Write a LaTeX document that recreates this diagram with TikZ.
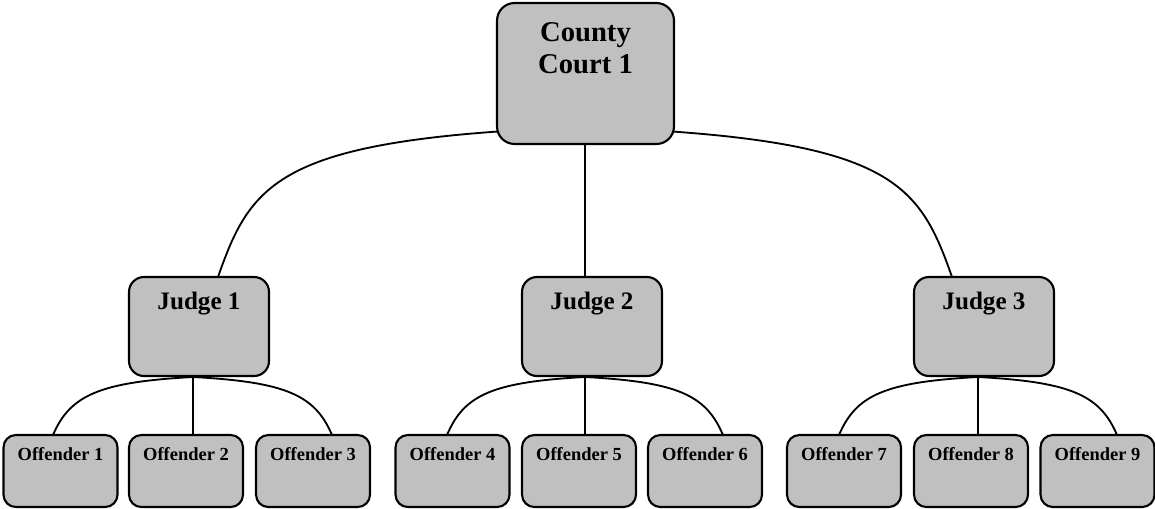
\documentclass[tikz,border=0pt]{standalone}
\usepackage{fontspec}
\setmainfont{Liberation Serif}
\usetikzlibrary{calc}
\definecolor{boxgray}{HTML}{C0C0C0}
\pgfdeclarelayer{bg}
\pgfsetlayers{bg,main}
\begin{document}
\begin{tikzpicture}[x=0.02cm, y=-0.02cm,
  box/.style={draw=black, line width=1.2pt, fill=boxgray, rectangle, inner sep=0pt, outer sep=0pt},
  countybox/.style={box, minimum width=35.4mm, minimum height=28.2mm, rounded corners=10pt},
  judgebox/.style={box, minimum width=28mm, minimum height=19.8mm, rounded corners=8.5pt},
  offbox/.style={box, minimum width=22.8mm, minimum height=14.4mm, rounded corners=7pt},
  lbl/.style={anchor=north, inner sep=0pt, align=center},
  countytxt/.style={lbl, font=\bfseries\fontsize{16.3}{18.1}\selectfont},
  judgetxt/.style={lbl, font=\bfseries\fontsize{14.3}{16}\selectfont},
  offtxt/.style={lbl, font=\bfseries\fontsize{10.5}{12}\selectfont},
  link/.style={line width=1.05pt, draw=black},
]
\useasboundingbox (0,0) rectangle (1155,508);

% boxes
\node[countybox] (cc) at (585.5,73.5) {};
\node[judgebox] (j1) at (199,326.5) {};
\node[judgebox] (j2) at (592,326.5) {};
\node[judgebox] (j3) at (984,326.5) {};
\node[offbox] (o1) at (60.5,471) {};
\node[offbox] (o2) at (186,471) {};
\node[offbox] (o3) at (313,471) {};
\node[offbox] (o4) at (452.5,471) {};
\node[offbox] (o5) at (579,471) {};
\node[offbox] (o6) at (705,471) {};
\node[offbox] (o7) at (844,471) {};
\node[offbox] (o8) at (971,471) {};
\node[offbox] (o9) at (1097.5,471) {};

% texts
\node[countytxt] (cct) at ($(cc.north)+(0,19.6)$) {County\\Court 1};
\node[judgetxt] (j1t) at ($(j1.north)+(0,14.8)$) {Judge 1};
\node[judgetxt] (j2t) at ($(j2.north)+(0,14.8)$) {Judge 2};
\node[judgetxt] (j3t) at ($(j3.north)+(0,14.8)$) {Judge 3};
\foreach \i in {1,...,9}{
  \node[offtxt] (o\i t) at ($(o\i.north)+(0,12.5)$) {Offender \i};
}

% connectors
\begin{pgfonlayer}{bg}
\coordinate (hc) at ($(cc.south)+(-0.5,-17)$);
\draw[link] (hc) .. controls +(-305,11) and +(34,-97) .. ($(j1.north)+(19,0)$);
\draw[link] (hc) -- (hc |- j2.north);
\draw[link] (hc) .. controls +(305,11) and +(-34,-97) .. ($(j3.north)+(-32,0)$);

\coordinate (h1) at ($(j1.south)+(-6,1)$);
\draw[link] (h1) .. controls +(-93,5) and +(17,-40) .. ($(o1.north)+(-7.5,0)$);
\draw[link] (h1) -- (h1 |- o2.north);
\draw[link] (h1) .. controls +(93,5) and +(-17,-40) .. ($(o3.north)+(19,0)$);

\coordinate (h2) at ($(j2.south)+(-7,1)$);
\draw[link] (h2) .. controls +(-93,5) and +(17,-40) .. ($(o4.north)+(-5.5,0)$);
\draw[link] (h2) -- (h2 |- o5.north);
\draw[link] (h2) .. controls +(93,5) and +(-17,-40) .. ($(o6.north)+(18,0)$);

\coordinate (h3) at ($(j3.south)+(-6,1)$);
\draw[link] (h3) .. controls +(-93,5) and +(17,-40) .. ($(o7.north)+(-5,0)$);
\draw[link] (h3) -- (h3 |- o8.north);
\draw[link] (h3) .. controls +(93,5) and +(-17,-40) .. ($(o9.north)+(19.5,0)$);
\end{pgfonlayer}
\end{tikzpicture}
\end{document}
